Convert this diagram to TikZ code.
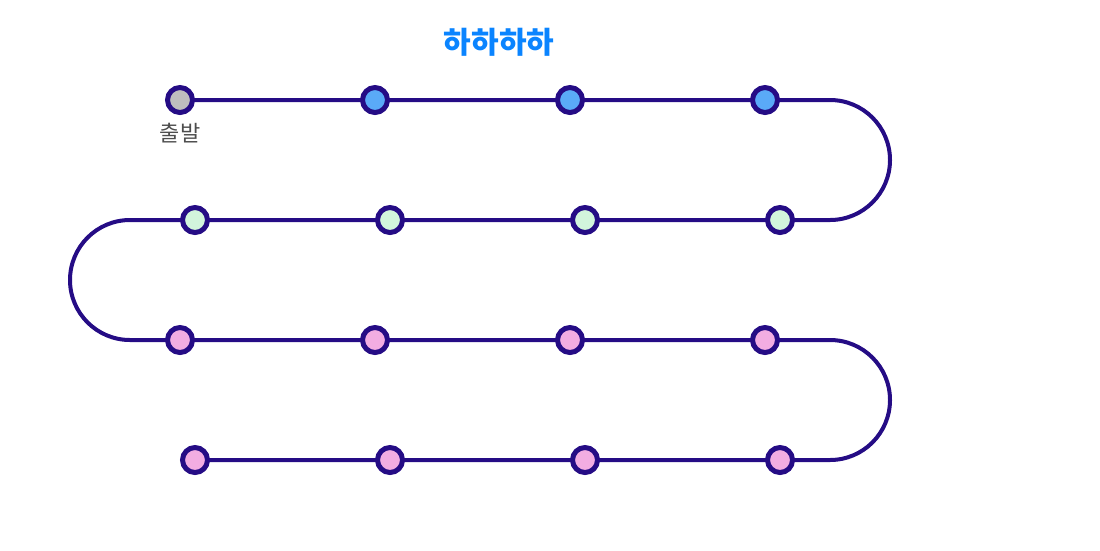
\documentclass[tikz,border=0pt]{standalone}
\usepackage{fontspec}
\newfontfamily\kr{Noto Sans CJK KR}
\definecolor{track}{HTML}{250C85}
\definecolor{cgray}{HTML}{BEBEBE}
\definecolor{cblue}{HTML}{5AAAF8}
\definecolor{cgreen}{HTML}{D2F5DC}
\definecolor{cpink}{HTML}{F2ADE2}
\definecolor{ctitle}{HTML}{0A84FF}
\definecolor{clabel}{HTML}{4D4D4D}
\begin{document}
\begin{tikzpicture}[x=1pt,y=-1pt,
  stop/.style={circle,draw=track,line width=5pt,minimum size=25pt,inner sep=0pt},
  trackline/.style={draw=track,line width=4pt}]
\useasboundingbox (0,0) rectangle (1100,550);
% coordinates
\coordinate (r1e) at (830,100);
\coordinate (r2e) at (830,220);
\coordinate (r2w) at (130,220);
\coordinate (r3w) at (130,340);
\coordinate (r3e) at (830,340);
\coordinate (r4e) at (830,460);
% stops
\path
  (180,100) coordinate (a1) (375,100) coordinate (a2) (570,100) coordinate (a3) (765,100) coordinate (a4)
  (195,220) coordinate (b1) (390,220) coordinate (b2) (585,220) coordinate (b3) (780,220) coordinate (b4)
  (180,340) coordinate (c1) (375,340) coordinate (c2) (570,340) coordinate (c3) (765,340) coordinate (c4)
  (195,460) coordinate (d1) (390,460) coordinate (d2) (585,460) coordinate (d3) (780,460) coordinate (d4);
\draw[trackline] (a1) -- (r1e) arc[start angle=-90,end angle=90,radius=60]
  -- (r2w) arc[start angle=-90,end angle=-270,radius=60]
  -- (r3e) arc[start angle=-90,end angle=90,radius=60] -- (d1);
\node[stop,fill=cgray] (s1) at (a1) {};
\foreach \p in {a2,a3,a4} \node[stop,fill=cblue] (s\p) at (\p) {};
\foreach \p in {b1,b2,b3,b4} \node[stop,fill=cgreen] (s\p) at (\p) {};
\foreach \p in {c1,c2,c3,c4,d1,d2,d3,d4} \node[stop,fill=cpink] (s\p) at (\p) {};
\node[font=\kr\bfseries\fontsize{30}{33}\selectfont,text=ctitle] (title) at (499,42) {하하하하};
\node[font=\kr\fontsize{22}{26}\selectfont,text=clabel] (start) at (180,133) {출발};
\end{tikzpicture}
\end{document}
